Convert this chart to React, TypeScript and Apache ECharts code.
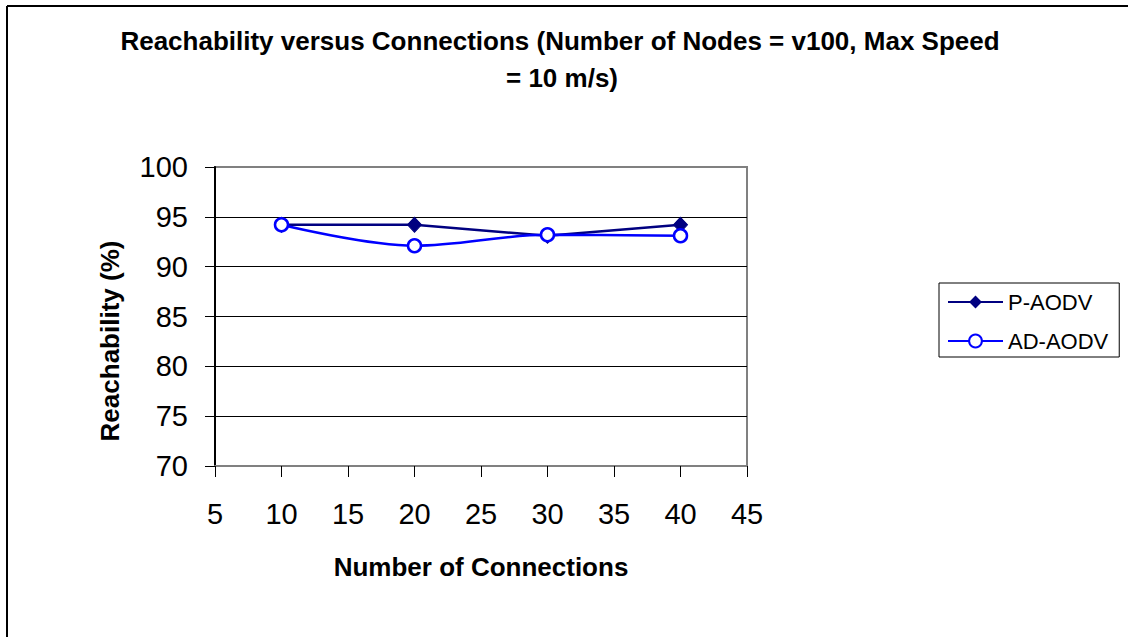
import React, { useEffect, useRef } from "react";
import * as echarts from "echarts";

const connections = [10, 20, 30, 40];
const pAodv = [94.2, 94.2, 93.1, 94.2];
const adAodv = [94.2, 92.1, 93.2, 93.1];
const titleLine1 = "Reachability versus Connections (Number of Nodes = v100, Max Speed";
const titleLine2 = "= 10 m/s)";
const xAxisName = "Number of Connections";
const yAxisName = "Reachability (%)";
const seriesNames = ["P-AODV", "AD-AODV"];

const FONT = "Arial, 'Liberation Sans', Helvetica, sans-serif";

export default function App() {
  const ref = useRef<HTMLDivElement>(null);
  useEffect(() => {
    if (!ref.current) return;
    const chart = echarts.init(ref.current, undefined, { renderer: "svg" });
    const toPairs = (ys: number[]) => connections.map((x, i) => [x, ys[i]]);
    chart.setOption({
      animation: false,
      backgroundColor: "#ffffff",
      textStyle: { fontFamily: FONT },
      grid: {
        left: 215,
        top: 167,
        width: 532,
        height: 299,
        show: true,
        borderColor: "#808080",
        borderWidth: 2,
        backgroundColor: "#ffffff",
      },
      xAxis: {
        type: "value",
        min: 5,
        max: 45,
        interval: 5,
        axisLine: { show: true, lineStyle: { color: "#808080", width: 2 } },
        axisTick: { show: true, inside: false, length: 11, lineStyle: { color: "#000", width: 1 } },
        axisLabel: { fontSize: 29, color: "#000", margin: 33, fontFamily: FONT },
        splitLine: { show: false },
      },
      yAxis: {
        type: "value",
        min: 70,
        max: 100,
        interval: 5,
        axisLine: { show: true, lineStyle: { color: "#000", width: 2 } },
        axisTick: { show: true, inside: false, length: 10, lineStyle: { color: "#000", width: 1 } },
        axisLabel: { fontSize: 29, color: "#000", margin: 27, fontFamily: FONT },
        splitLine: { show: true, showMinLine: false, showMaxLine: false, lineStyle: { color: "#000", width: 1 } },
      },
      legend: {
        orient: "vertical",
        left: 939,
        top: 283,
        padding: [7, 11, 4, 8],
        borderColor: "#000",
        borderWidth: 1,
        itemWidth: 55,
        itemHeight: 16,
        itemGap: 15,
        textStyle: { fontSize: 22, color: "#000", lineHeight: 24, fontFamily: FONT },
        data: seriesNames,
      },
      series: [
        {
          name: seriesNames[0],
          type: "line",
          data: toPairs(pAodv),
          symbol: "diamond",
          symbolSize: [14, 15],
          lineStyle: { color: "#000080", width: 2.5 },
          itemStyle: { color: "#000080", borderColor: "#000080" },
          z: 2,
        },
        {
          name: seriesNames[1],
          type: "line",
          data: toPairs(adAodv),
          smooth: 0.35,
          symbol: "circle",
          symbolSize: 13,
          lineStyle: { color: "#0000ff", width: 2.5 },
          itemStyle: { color: "#ffffff", borderColor: "#0000ff", borderWidth: 2.5 },
          z: 3,
        },
      ],
      graphic: [
        { type: "line", shape: { x1: 7, y1: 6, x2: 1128, y2: 6 }, style: { stroke: "#000", lineWidth: 2 } },
        { type: "line", shape: { x1: 7, y1: 6, x2: 7, y2: 637 }, style: { stroke: "#000", lineWidth: 2 } },
        {
          type: "text",
          x: 560,
          y: 41,
          style: { text: titleLine1, font: `bold 26px ${FONT}`, fill: "#000", align: "center", verticalAlign: "middle" },
        },
        {
          type: "text",
          x: 562,
          y: 78,
          style: { text: titleLine2, font: `bold 26px ${FONT}`, fill: "#000", align: "center", verticalAlign: "middle" },
        },
        {
          type: "text",
          x: 481,
          y: 567,
          style: { text: xAxisName, font: `bold 26px ${FONT}`, fill: "#000", align: "center", verticalAlign: "middle" },
        },
        {
          type: "text",
          x: 110,
          y: 341,
          rotation: Math.PI / 2,
          style: { text: yAxisName, font: `bold 26px ${FONT}`, fill: "#000", align: "center", verticalAlign: "middle" },
        },
      ],
    });
    return () => chart.dispose();
  }, []);
  return <div ref={ref} style={{ position: "absolute", left: 0, top: 0, width: 1128, height: 637 }} />;
}
